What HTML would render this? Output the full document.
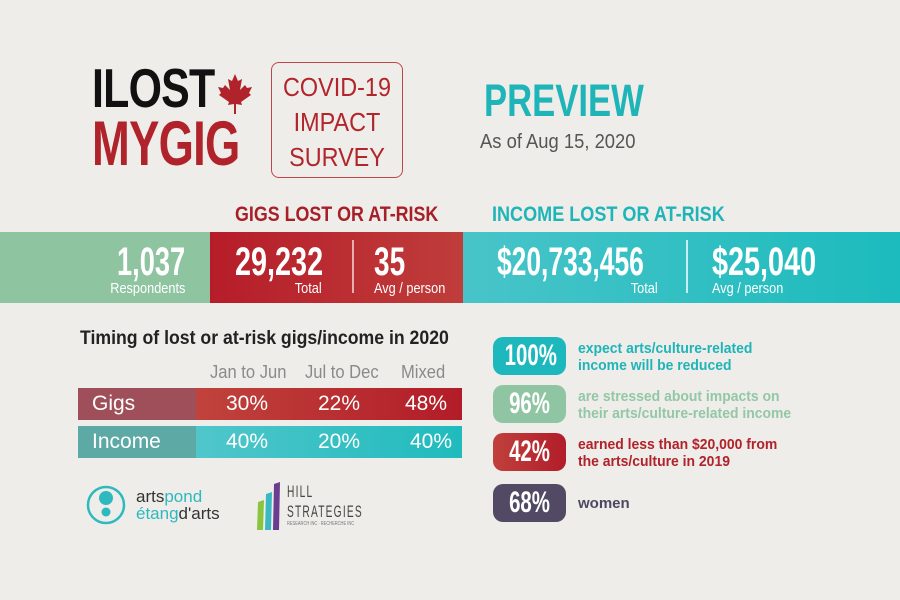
<!DOCTYPE html>
<html><head><meta charset="utf-8"><style>
*{margin:0;padding:0;box-sizing:border-box}
body{width:900px;height:600px;background:#eeede9;position:relative;overflow:hidden;font-family:"Liberation Sans",sans-serif}
.a{position:absolute;white-space:nowrap}
.w{color:#fff}
.big{font-size:40px;line-height:40px;font-weight:bold;color:#fff;transform:scaleX(0.7)}
.sm{font-size:15px;line-height:15px;color:#fff;transform:scaleX(0.85)}
.L{transform-origin:left}
.R{transform-origin:right}
</style></head><body>
<div class="a L" style="left:92px;top:61px;font-size:55px;line-height:55px;font-weight:bold;color:#111;letter-spacing:-1px;transform:scaleX(0.78)">ILOST</div>
<svg class="a" style="left:218px;top:74px" width="34" height="40" viewBox="0 0 34 40"><path d="M17 0 L20 7 L24 5 L22 16 L27 11 L29 14 L34 13 L31 19 L33 21 L23 28 L24 31 L18 30 L18 40 L16 40 L16 30 L10 31 L11 28 L1 21 L3 19 L0 13 L5 14 L7 11 L12 16 L10 5 L14 7 Z" fill="#b0232a"/></svg>
<div class="a L" style="left:92px;top:113px;font-size:63px;line-height:63px;font-weight:bold;color:#b0232a;letter-spacing:-1px;transform:scaleX(0.72)">MYGIG</div>
<div class="a" style="left:271px;top:62px;width:132px;height:116px;border:1.5px solid #c0454a;border-radius:8px"></div>
<div class="a" style="left:271px;top:70px;width:132px;text-align:center;font-size:26px;line-height:35px;color:#b1252b;transform:scaleX(0.9);white-space:normal">COVID-19<br>IMPACT<br>SURVEY</div>
<div class="a L" style="left:484px;top:78px;font-size:45px;line-height:45px;font-weight:bold;color:#1fb5b8;transform:scaleX(0.77)">PREVIEW</div>
<div class="a L" style="left:480px;top:131px;font-size:20px;color:#555;transform:scaleX(0.92)">As of Aug 15, 2020</div>
<div class="a L" style="left:235px;top:203px;font-size:21px;font-weight:bold;color:#a71f27;transform:scaleX(0.85)">GIGS LOST OR AT-RISK</div>
<div class="a L" style="left:492px;top:203px;font-size:21px;font-weight:bold;color:#1fb5b8;transform:scaleX(0.86)">INCOME LOST OR AT-RISK</div>
<div class="a" style="left:0;top:232px;width:210px;height:71px;background:#8fc4a1"></div>
<div class="a" style="left:210px;top:232px;width:253px;height:71px;background:linear-gradient(90deg,#b61d29,#bf3d3b)"></div>
<div class="a" style="left:463px;top:232px;width:437px;height:71px;background:linear-gradient(90deg,#48c4c9,#1cbbbd)"></div>
<div class="a big R" style="right:715px;top:242px;transform:scaleX(0.68)">1,037</div>
<div class="a sm R" style="right:715px;top:281px">Respondents</div>
<div class="a big L" style="left:235px;top:242px;transform:scaleX(0.72)">29,232</div>
<div class="a sm R" style="right:578px;top:281px">Total</div>
<div class="a" style="left:352px;top:240px;width:2px;height:53px;background:#e6b0b0"></div>
<div class="a big L" style="left:374px;top:242px">35</div>
<div class="a sm L" style="left:374px;top:281px">Avg / person</div>
<div class="a big L" style="left:497px;top:242px;transform:scaleX(0.66)">$20,733,456</div>
<div class="a sm R" style="right:242px;top:281px">Total</div>
<div class="a" style="left:686px;top:240px;width:2px;height:53px;background:#c7eef0"></div>
<div class="a big L" style="left:712px;top:242px;transform:scaleX(0.72)">$25,040</div>
<div class="a sm L" style="left:712px;top:281px">Avg / person</div>
<div class="a L" style="left:80px;top:328px;font-size:19px;font-weight:bold;color:#222;transform:scaleX(0.93)">Timing of lost or at-risk gigs/income in 2020</div>
<div class="a L" style="left:210px;top:362px;font-size:18px;color:#8a8a8a;transform:scaleX(0.92)">Jan to Jun</div>
<div class="a L" style="left:305px;top:362px;font-size:18px;color:#8a8a8a;transform:scaleX(0.92)">Jul to Dec</div>
<div class="a L" style="left:401px;top:362px;font-size:18px;color:#8a8a8a;transform:scaleX(0.92)">Mixed</div>
<div class="a" style="left:78px;top:388px;width:118px;height:32px;background:#9f4f59"></div>
<div class="a" style="left:196px;top:388px;width:266px;height:32px;background:linear-gradient(90deg,#c0433c,#b21c28)"></div>
<div class="a" style="left:78px;top:426px;width:118px;height:32px;background:#5da9a6"></div>
<div class="a" style="left:196px;top:426px;width:266px;height:32px;background:linear-gradient(90deg,#50c6cb,#20bbbd)"></div>
<div class="a w" style="left:92px;top:392px;font-size:21px">Gigs</div>
<div class="a w" style="left:92px;top:430px;font-size:21px">Income</div>
<div class="a w" style="left:226px;top:392px;font-size:21px">30%</div>
<div class="a w" style="left:318px;top:392px;font-size:21px">22%</div>
<div class="a w" style="left:405px;top:392px;font-size:21px">48%</div>
<div class="a w" style="left:226px;top:430px;font-size:21px">40%</div>
<div class="a w" style="left:318px;top:430px;font-size:21px">20%</div>
<div class="a w" style="left:410px;top:430px;font-size:21px">40%</div>
<div class="a" style="left:493px;top:337px;width:73px;height:38px;border-radius:10px;background:#1cb8bd"></div>
<div class="a" style="left:493px;top:385px;width:73px;height:38px;border-radius:10px;background:#8fc5a3"></div>
<div class="a" style="left:493px;top:433px;width:73px;height:38px;border-radius:10px;background:linear-gradient(90deg,#c0403c,#b21d29)"></div>
<div class="a" style="left:493px;top:484px;width:73px;height:38px;border-radius:10px;background:#524a64"></div>
<div class="a w" style="left:493px;top:337px;width:73px;text-align:center;font-size:30px;line-height:38px;font-weight:bold;transform:scaleX(0.68)">100%</div>
<div class="a w" style="left:493px;top:385px;width:73px;text-align:center;font-size:30px;line-height:38px;font-weight:bold;transform:scaleX(0.68)">96%</div>
<div class="a w" style="left:493px;top:433px;width:73px;text-align:center;font-size:30px;line-height:38px;font-weight:bold;transform:scaleX(0.68)">42%</div>
<div class="a w" style="left:493px;top:484px;width:73px;text-align:center;font-size:30px;line-height:38px;font-weight:bold;transform:scaleX(0.68)">68%</div>
<div class="a L" style="left:578px;top:340px;font-size:15px;font-weight:bold;line-height:17px;color:#1fb5b8;transform:scaleX(0.93)">expect arts/culture-related<br>income will be reduced</div>
<div class="a L" style="left:578px;top:388px;font-size:15px;font-weight:bold;line-height:17px;color:#93c7a6;transform:scaleX(0.93)">are stressed about impacts on<br>their arts/culture-related income</div>
<div class="a L" style="left:578px;top:436px;font-size:15px;font-weight:bold;line-height:17px;color:#b1222a;transform:scaleX(0.93)">earned less than $20,000 from<br>the arts/culture in 2019</div>
<div class="a" style="left:578px;top:495px;font-size:15px;font-weight:bold;color:#4d4860">women</div>
<svg class="a" style="left:86px;top:483px" width="40" height="44"><circle cx="20" cy="22" r="18" fill="none" stroke="#2db9be" stroke-width="2.5"/><circle cx="20" cy="15" r="7" fill="#2db9be"/><circle cx="20" cy="29" r="4.5" fill="#2db9be"/></svg>
<div class="a" style="left:136px;top:488px;font-size:17px;line-height:17px;color:#333"><span>arts</span><span style="color:#2db9be">pond</span><br><span style="color:#2db9be">étang</span><span>d'arts</span></div>
<svg class="a" style="left:256px;top:482px" width="30" height="48"><polygon points="2,20 8,18 7,48 1,48" fill="#8bc43f"/><polygon points="10,12 16,10 15,48 9,48" fill="#39b9c2"/><polygon points="18,2 24,0 23,48 17,48" fill="#6a3d91"/></svg>
<div class="a L" style="left:287px;top:482px;font-size:17px;line-height:20px;color:#444;letter-spacing:2px;transform:scaleX(0.6)">HILL<br>STRATEGIES</div>
<div class="a L" style="left:287px;top:521px;font-size:5px;color:#777;transform:scaleX(0.8)">RESEARCH INC · RECHERCHE INC</div>
</body></html>
